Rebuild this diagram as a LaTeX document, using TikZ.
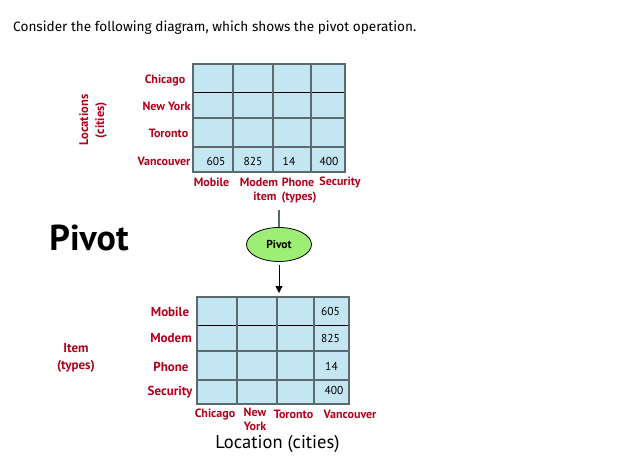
\documentclass[tikz,border=0pt]{standalone}
\usepackage{fontspec}
\setmainfont{PT Sans}
\newfontfamily\titlefont{Fira Sans}
\usetikzlibrary{shapes.geometric,arrows.meta}

\tikzset{
  lab/.style={font=\bfseries\fontsize{12}{13}\selectfont, text=colLab, inner sep=0pt},
  val/.style={font=\fontsize{11.5}{13}\selectfont, inner sep=0pt},
  gridline/.style={draw=colGrid, line width=2pt},
}

\begin{document}
\begin{tikzpicture}[x=1pt,y=-1pt]

% Colori
\definecolor{colCell}{HTML}{C4E6F2}
\definecolor{colGrid}{HTML}{5A6A6E}
\definecolor{colLab}{HTML}{B3001B}
\definecolor{colPivot}{HTML}{9CEE74}

\useasboundingbox[fill=white] (0,0) rectangle (617,474);

% Titolo
\node[anchor=west, font=\titlefont\fontsize{13.6}{16}\selectfont, inner sep=0pt] (title) at (13,28)
  {Consider the following diagram, which shows the pivot operation.};

% Tabella superiore
\fill[colCell] (193,64) rectangle (345,172);
\draw[black, line width=0.9pt] (193,92) -- (345,92);
\draw[gridline] (193,118) -- (345,118);
\draw[gridline] (193,147) -- (345,147);
\draw[gridline] (233,64) -- (233,172);
\draw[gridline] (273,64) -- (273,172);
\draw[gridline] (311,64) -- (311,172);
\draw[gridline] (193,64) rectangle (345,172);

% Righe - citta
\node[lab] (tChicago) at (165,80.5) {Chicago};
\node[lab] (tNewYork) at (166.5,106.5) {New York};
\node[lab] (tToronto) at (168.5,133.5) {Toronto};
\node[lab] (tVancouver) at (164,161.5) {Vancouver};

% Valori Vancouver
\node[val] (tv1) at (216,161) {605};
\node[val] (tv2) at (253,161) {825};
\node[val] (tv3) at (289,161) {14};
\node[val] (tv4) at (329,161) {400};

% Colonne - articoli
\node[lab] (tMobile) at (211.5,182.5) {Mobile};
\node[lab] (tModem) at (259,182.5) {Modem};
\node[lab] (tPhone) at (298,182.5) {Phone};
\node[lab] (tSecurity) at (340,182.5) {Security};
\node[lab] (tItem) at (285,197.5) {item\, (types)};

% Asse citta
\node[lab, rotate=90, align=center, font=\bfseries\fontsize{12.5}{16}\selectfont] (tLoc) at (93,120) {Locations\\(cities)};

% Pivot
\node[font=\bfseries\fontsize{36}{38}\selectfont, inner sep=0pt] (bigPivot) at (89,238) {Pivot};
\node[ellipse, draw=black, line width=0.8pt, fill=colPivot, minimum width=65pt, minimum height=34pt,
  inner sep=0pt, font=\bfseries\fontsize{11.5}{13}\selectfont] (pivot) at (279,244.5) {Pivot};
\coordinate (inTop) at (279,210);
\coordinate (outBot) at (279,293);
\draw[colGrid, line width=1.3pt] (inTop) -- (pivot.north);
\draw[black, line width=1pt, -{Triangle[length=7pt,width=7pt]}] (pivot.south) ++(0,3) -- (outBot);

% Tabella inferiore
\fill[colCell] (197,297) rectangle (349,404);
\draw[black, line width=0.9pt] (197,325) -- (349,325);
\draw[gridline] (197,351) -- (349,351);
\draw[gridline] (197,380) -- (349,380);
\draw[gridline] (237,297) -- (237,404);
\draw[gridline] (277,297) -- (277,404);
\draw[gridline] (314,297) -- (314,404);
\draw[gridline] (197,297) rectangle (349,404);

% Righe - articoli
\node[lab, font=\bfseries\fontsize{13}{14}\selectfont] (bMobile) at (170,311.5) {Mobile};
\node[lab, font=\bfseries\fontsize{13}{14}\selectfont] (bModem) at (171,338) {Modem};
\node[lab, font=\bfseries\fontsize{13}{14}\selectfont] (bPhone) at (171,366.5) {Phone};
\node[lab, font=\bfseries\fontsize{13}{14}\selectfont] (bSecurity) at (170,392.5) {Security};

% Valori Vancouver
\node[val] (bv1) at (330.5,311.5) {605};
\node[val] (bv2) at (330.5,338) {825};
\node[val] (bv3) at (331.5,366) {14};
\node[val] (bv4) at (334,390) {400};

% Colonne - citta
\node[lab] (bChicago) at (215,414) {Chicago};
\node[lab, align=center, font=\bfseries\fontsize{12}{14}\selectfont] (bNewYork) at (255,419.5) {New\\York};
\node[lab] (bToronto) at (293.5,414) {Toronto};
\node[lab] (bVancouver) at (350,414) {Vancouver};

% Assi
\node[font=\fontsize{18.5}{20}\selectfont, inner sep=0pt] (bLoc) at (277.5,444) {Location (cities)};
\node[lab, align=center, font=\bfseries\fontsize{13}{17}\selectfont] (bItem) at (76,357.5) {Item\\(types)};

\end{tikzpicture}
\end{document}
